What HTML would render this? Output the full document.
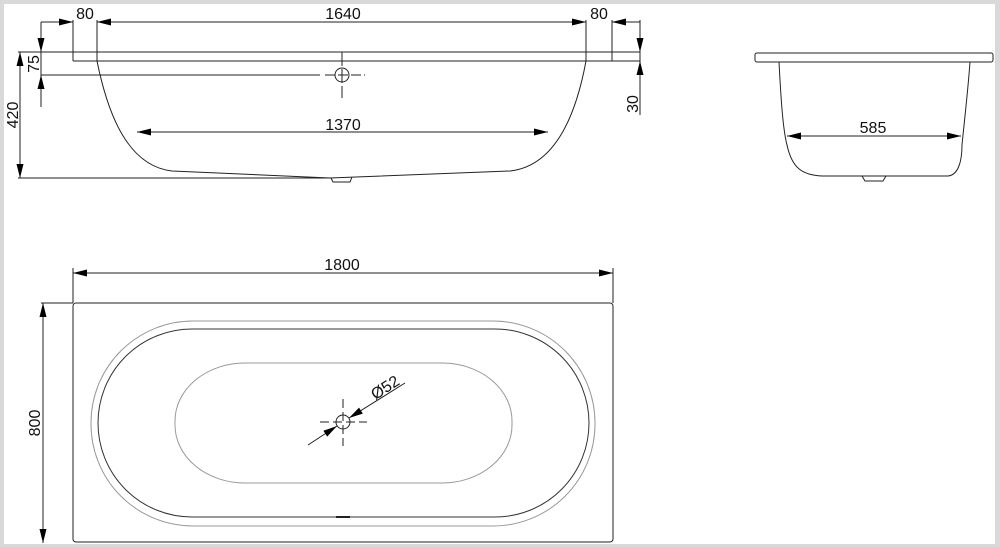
<!DOCTYPE html>
<html><head><style>
html,body{margin:0;padding:0;background:#d9d9d9;}
svg{display:block;}
text{font-family:"Liberation Sans",Arial,sans-serif;font-size:16px;fill:#111;}
</style></head><body>
<svg width="1000" height="547" viewBox="0 0 1000 547">
<rect x="4" y="4" width="991" height="540" fill="#fff"/>
<g stroke="#222" stroke-width="1" fill="none">
<line x1="41" y1="22" x2="73" y2="22"/>
<line x1="97" y1="22" x2="586" y2="22"/>
<line x1="640" y1="22" x2="612" y2="22"/>
<line x1="73" y1="20" x2="73" y2="61"/>
<line x1="97" y1="20" x2="97" y2="61"/>
<line x1="586" y1="20" x2="586" y2="61"/>
<line x1="612" y1="20" x2="612" y2="61"/>
<line x1="18" y1="52" x2="640" y2="52"/>
<line x1="73" y1="61" x2="640" y2="61"/>
<line x1="41" y1="22" x2="41" y2="107"/>
<line x1="41" y1="75" x2="320" y2="75"/>
<line x1="325" y1="75" x2="365" y2="75" stroke-dasharray="10,3"/>
<line x1="342" y1="52" x2="342" y2="98" stroke-dasharray="14,3"/>
<circle cx="342" cy="75" r="7"/>
<line x1="20" y1="52" x2="20" y2="178"/>
<line x1="18" y1="178" x2="330" y2="178"/>
<path d="M97,61 C108,115 128,166 172,171 L330,178 L510,171 C555,166 576,115 586,61"/>
<path d="M331,178 L333,182 L350,182 L352,177"/>
<line x1="137" y1="132" x2="548" y2="132"/>
<line x1="640" y1="20" x2="640" y2="115"/>
<rect x="755" y="53" width="238" height="9" rx="2"/>
<path d="M779,62 C781,100 783,130 787,145 C792,168 802,175 822,176 L948,176 C958,175 962,162 962,145 C965,115 968,90 970,62"/>
<path d="M862,176 L865,181 L883,181 L886,176"/>
<line x1="787" y1="136" x2="961" y2="136"/>
<line x1="73" y1="273" x2="613" y2="273"/>
<line x1="73" y1="268" x2="73" y2="303"/>
<line x1="613" y1="268" x2="613" y2="303"/>
<rect x="73" y="303" width="540" height="239" rx="3"/>
<line x1="41" y1="303" x2="73" y2="303"/>
<line x1="43" y1="303" x2="43" y2="543"/>
<rect x="91" y="321" width="504" height="205" rx="102" stroke="#999"/>
<rect x="98" y="329" width="491" height="188" rx="94" stroke="#333"/>
<rect x="175" y="363" width="337" height="120" rx="70" ry="58" stroke="#999"/>
<line x1="336" y1="517" x2="350" y2="517" stroke-width="2"/>
<circle cx="343" cy="422" r="7"/>
<line x1="320" y1="422" x2="367" y2="422" stroke-dasharray="9,4"/>
<line x1="343" y1="399" x2="343" y2="446" stroke-dasharray="9,4"/>
<line x1="308" y1="445" x2="337" y2="426"/>
<line x1="405" y1="383" x2="349" y2="418"/>
</g>
<g fill="#000">
<polygon points="59,18.5 73,22 59,25.5"/>
<polygon points="111,18.5 97,22 111,25.5"/>
<polygon points="572,18.5 586,22 572,25.5"/>
<polygon points="626,18.5 612,22 626,25.5"/>
<polygon points="37.5,38 41,52 44.5,38"/>
<polygon points="37.5,89 41,75 44.5,89"/>
<polygon points="16.5,66 20,52 23.5,66"/>
<polygon points="16.5,164 20,178 23.5,164"/>
<polygon points="151,128.5 137,132 151,135.5"/>
<polygon points="534,128.5 548,132 534,135.5"/>
<polygon points="636.5,38 640,52 643.5,38"/>
<polygon points="636.5,75 640,61 643.5,75"/>
<polygon points="801,132.5 787,136 801,139.5"/>
<polygon points="947,132.5 961,136 947,139.5"/>
<polygon points="87,269.5 73,273 87,276.5"/>
<polygon points="599,269.5 613,273 599,276.5"/>
<polygon points="39.5,317 43,303 46.5,317"/>
<polygon points="39.5,529 43,543 46.5,529"/>
<polygon points="323.4,430.8 337,426 327.2,436.6"/>
<polygon points="362.8,413.6 349,418 359,407.6"/>
</g>
<text x="85" y="19" text-anchor="middle">80</text>
<text x="343" y="19" text-anchor="middle">1640</text>
<text x="599" y="19" text-anchor="middle">80</text>
<text x="343" y="130" text-anchor="middle">1370</text>
<text transform="translate(39,64) rotate(-90)" text-anchor="middle">75</text>
<text transform="translate(18,115) rotate(-90)" text-anchor="middle">420</text>
<text transform="translate(638,104) rotate(-90)" text-anchor="middle">30</text>
<text x="873" y="133" text-anchor="middle">585</text>
<text x="342" y="270" text-anchor="middle">1800</text>
<text transform="translate(40,423) rotate(-90)" text-anchor="middle">800</text>
<text transform="translate(388,392) rotate(-33)" text-anchor="middle">Ø52</text>
</svg>
</body></html>
